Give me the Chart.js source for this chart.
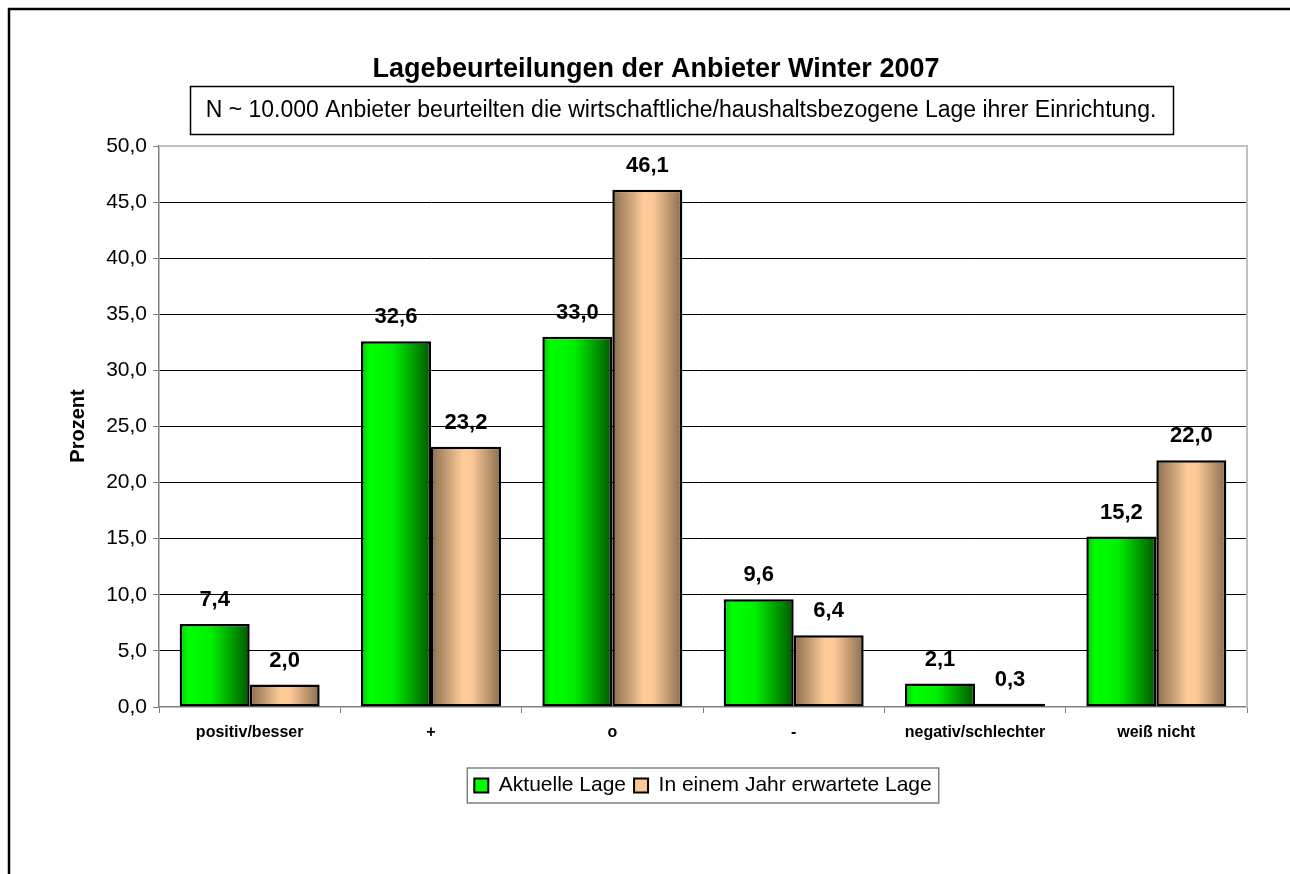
<!DOCTYPE html>
<html>
<head>
<meta charset="utf-8">
<script src="https://cdn.jsdelivr.net/npm/chart.js@4/dist/chart.umd.min.js"></script>
<style>
html,body{margin:0;padding:0;background:#fff;}
#wrap{width:1290px;height:874px;position:relative;}
</style>
</head>
<body>
<div id="wrap"><canvas id="c" width="1290" height="874"></canvas></div>
<script>
const categories = ['positiv/besser', '+', 'o', '-', 'negativ/schlechter', 'weiß nicht'];
const aktuelleLage = [7.4, 32.6, 33.0, 9.6, 2.1, 15.2];
const erwarteteLage = [2.0, 23.2, 46.1, 6.4, 0.3, 22.0];
const seriesNames = ['Aktuelle Lage', 'In einem Jahr erwartete Lage'];
const chartTitle = 'Lagebeurteilungen der Anbieter Winter 2007';
const noteText = 'N ~ 10.000 Anbieter beurteilten die wirtschaftliche/haushaltsbezogene Lage ihrer Einrichtung.';
const yAxisTitle = 'Prozent';

const FONT = "'Liberation Sans', Arial, sans-serif";
const fmt = v => Number(v).toFixed(1).replace('.', ',');

const gradientPlugin = {
  id: 'gradients',
  beforeDatasetsDraw(chart) {
    const ctx = chart.ctx;
    chart.data.datasets.forEach((ds, di) => {
      const meta = chart.getDatasetMeta(di);
      meta.data.forEach(el => {
        const x0 = el.x - el.width / 2, x1 = el.x + el.width / 2;
        const g = ctx.createLinearGradient(x0, 0, x1, 0);
        if (di === 0) {
          g.addColorStop(0, '#00c800');
          g.addColorStop(0.12, '#00ff00');
          g.addColorStop(0.45, '#00f000');
          g.addColorStop(1, '#005800');
        } else {
          g.addColorStop(0, '#8a6c4e');
          g.addColorStop(0.45, '#ffcc99');
          g.addColorStop(0.58, '#fcc897');
          g.addColorStop(1, '#8a6c4e');
        }
        el.options = Object.assign({}, el.options, { backgroundColor: g });
      });
    });
  }
};

const decorPlugin = {
  id: 'decor',
  beforeDraw(chart) {
    const ctx = chart.ctx;
    ctx.save();
    ctx.fillStyle = '#fff';
    ctx.fillRect(0, 0, chart.width, chart.height);
    ctx.restore();
  },
  afterDraw(chart) {
    const ctx = chart.ctx;
    const a = chart.chartArea;
    ctx.save();
    // outer frame (left + top)
    ctx.strokeStyle = '#000';
    ctx.lineWidth = 2.5;
    ctx.beginPath();
    ctx.moveTo(9, 874);
    ctx.lineTo(9, 9);
    ctx.lineTo(1290, 9);
    ctx.stroke();
    // plot border top/right
    ctx.strokeStyle = '#c0c0c0';
    ctx.lineWidth = 2;
    ctx.beginPath();
    ctx.moveTo(a.left, a.top);
    ctx.lineTo(a.right, a.top);
    ctx.lineTo(a.right, a.bottom);
    ctx.stroke();
    // title
    ctx.fillStyle = '#000';
    ctx.font = 'bold 27px ' + FONT;
    ctx.textAlign = 'center';
    ctx.textBaseline = 'middle';
    ctx.fillText(chartTitle, 656, 70);
    // note box
    ctx.lineWidth = 1.5;
    ctx.strokeStyle = '#000';
    ctx.strokeRect(190.5, 86.5, 983, 48);
    ctx.font = '23px ' + FONT;
    ctx.fillText(noteText, 681, 111);
    // y axis title
    ctx.save();
    ctx.translate(78, 426);
    ctx.rotate(-Math.PI / 2);
    ctx.font = 'bold 20px ' + FONT;
    ctx.fillText(yAxisTitle, 0, 0);
    ctx.restore();
    // data labels
    ctx.font = 'bold 22px ' + FONT;
    chart.data.datasets.forEach((ds, di) => {
      const meta = chart.getDatasetMeta(di);
      meta.data.forEach((el, i) => {
        ctx.fillText(fmt(ds.data[i]), el.x, el.y - 24);
      });
    });
    // legend border
    const lg = chart.legend;
    if (lg && lg.legendHitBoxes && lg.legendHitBoxes.length) {
      const hb = lg.legendHitBoxes;
      const l = hb[0].left - 7, r = hb[hb.length - 1].left + hb[hb.length - 1].width + 7;
      const t = hb[0].top - 7, b = hb[0].top + hb[0].height + 7;
      ctx.strokeStyle = '#808080';
      ctx.lineWidth = 1.5;
      ctx.strokeRect(l, t, r - l, b - t);
    }
    ctx.restore();
  }
};

new Chart(document.getElementById('c'), {
  type: 'bar',
  data: {
    labels: categories,
    datasets: [
      { label: seriesNames[0], data: aktuelleLage, backgroundColor: '#00ff00', borderColor: '#000', borderWidth: 2.5, borderSkipped: false, categoryPercentage: 0.772, barPercentage: 1.0 },
      { label: seriesNames[1], data: erwarteteLage, backgroundColor: '#f9c896', borderColor: '#000', borderWidth: 2.5, borderSkipped: false, categoryPercentage: 0.772, barPercentage: 1.0 }
    ]
  },
  options: {
    responsive: false,
    animation: false,
    events: [],
    layout: { padding: { left: 0, top: 146, right: 43, bottom: 68 } },
    scales: {
      x: {
        offset: true,
        grid: { offset: true, drawOnChartArea: false, drawTicks: true, tickLength: 6, tickColor: '#808080' },
        border: { color: '#808080', width: 1.5 },
        ticks: { color: '#000', font: { family: FONT, size: 16, weight: 'bold' }, padding: 10, maxRotation: 0, autoSkip: false },
        afterFit(s) { s.height = 60; }
      },
      y: {
        min: 0, max: 50,
        ticks: { stepSize: 5, color: '#000', font: { family: FONT, size: 21 }, padding: 6, callback: v => fmt(v) },
        grid: {
          color: c => (c.tick && (c.tick.value === 50 || c.tick.value === 0)) ? 'rgba(0,0,0,0)' : '#000',
          lineWidth: 1, drawTicks: true, tickLength: 6, tickColor: '#808080'
        },
        border: { color: '#808080', width: 1.5 },
        title: { display: false },
        afterFit(s) { s.width = 159; }
      }
    },
    plugins: {
      legend: {
        position: 'bottom',
        fullSize: false,
        labels: {
          color: '#000', font: { family: FONT, size: 21 }, boxWidth: 14, boxHeight: 14, padding: 8,
          generateLabels(chart) {
            return chart.data.datasets.map((ds, i) => ({
              text: ds.label, fillStyle: ds.backgroundColor, strokeStyle: '#000', lineWidth: 2, hidden: false, datasetIndex: i, fontColor: '#000'
            }));
          }
        }
      },
      title: { display: false },
      tooltip: { enabled: false }
    }
  },
  plugins: [gradientPlugin, decorPlugin]
});
</script>
</body>
</html>
